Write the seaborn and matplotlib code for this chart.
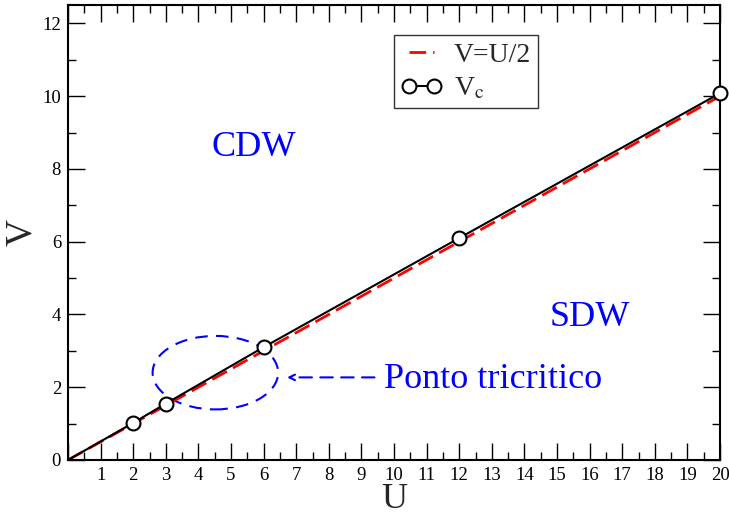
import numpy as np
import pandas as pd
import matplotlib
matplotlib.use("Agg")
import matplotlib.pyplot as plt
from matplotlib.patches import Ellipse
from matplotlib.ticker import MultipleLocator, FixedFormatter, FixedLocator
import seaborn as sns

# critical coupling V_c versus U
U_c = [0, 2, 3, 6, 12, 20]
V_c = [0, 1.02, 1.55, 3.1, 6.1, 10.08]

# reference line V = U/2
U_ref = [0, 20]
V_ref = [0, 10]

x_tick_vals = list(range(0, 21))
x_tick_labels = [""] + [str(v) for v in range(1, 21)]
y_tick_vals = [0, 2, 4, 6, 8, 10, 12]

sns.set_style("ticks")
plt.rcParams["font.family"] = ["Liberation Serif", "DejaVu Serif"]
plt.rcParams["mathtext.fontset"] = "stix"

fig = plt.figure(figsize=(7.29, 5.15), dpi=100)
ax = fig.add_axes([0.0933, 0.1068, 0.8944, 0.8832])

ref_df = pd.DataFrame({"U": U_ref, "V": V_ref})
vc_df = pd.DataFrame({"U": U_c, "V": V_c})

sns.lineplot(data=ref_df, x="U", y="V", ax=ax, color="red", lw=2.0,
             dashes=False, label="V=U/2", zorder=2)
ax.lines[-1].set_dashes([6, 2.5])
sns.lineplot(data=vc_df, x="U", y="V", ax=ax, color="black", lw=1.5,
             marker="o", markersize=10, markerfacecolor="white",
             markeredgecolor="black", markeredgewidth=1.5,
             markevery=list(range(1, len(U_c))), label=r"V$_{\rm c}$",
             zorder=3, sort=False, clip_on=False)

ax.set_xlim(0, 20)
ax.set_ylim(0, 12.5)

ax.xaxis.set_major_locator(FixedLocator(x_tick_vals))
ax.xaxis.set_major_formatter(FixedFormatter(x_tick_labels))
ax.xaxis.set_minor_locator(MultipleLocator(0.5))
ax.yaxis.set_major_locator(FixedLocator(y_tick_vals))
ax.yaxis.set_minor_locator(MultipleLocator(1))
ax.tick_params(which="both", direction="in", top=True, right=True,
               width=1.0, colors="black", labelsize=13.5)
ax.tick_params(which="major", length=12, pad=5)
ax.tick_params(which="minor", length=6)
for s in ax.spines.values():
    s.set_linewidth(1.5)
    s.set_color("black")

ax.set_xlabel("U", fontsize=26, labelpad=-1)
ax.set_ylabel("V", fontsize=27, labelpad=2)

# phase labels
ax.text(5.7, 8.6, "CDW", color="blue", fontsize=26, ha="center", va="center")
ax.text(16.0, 3.92, "SDW", color="blue", fontsize=26, ha="center", va="center")

# tricritical point marker
ax.add_patch(Ellipse((4.52, 2.4), 3.85, 2.02, fill=False, edgecolor="blue",
                     lw=1.5, ls=(0, (6, 4)), zorder=1))
ax.annotate("", xy=(6.72, 2.27), xytext=(9.4, 2.27),
            arrowprops=dict(arrowstyle="->", color="blue", lw=1.5,
                            ls=(0, (6, 4)), shrinkA=0, shrinkB=0))
ax.text(9.7, 2.2, "Ponto tricritico", color="blue", fontsize=26,
        ha="left", va="center")

leg = ax.legend(loc="upper left", bbox_to_anchor=(0.5, 0.934), fontsize=20,
                frameon=True, fancybox=False, numpoints=2, handlelength=1.5,
                handletextpad=0.4, borderpad=0.25, labelspacing=0.3,
                borderaxespad=0)
leg.get_frame().set_edgecolor("black")
leg.get_frame().set_linewidth(1.0)

fig.savefig("out.png", dpi=100)
